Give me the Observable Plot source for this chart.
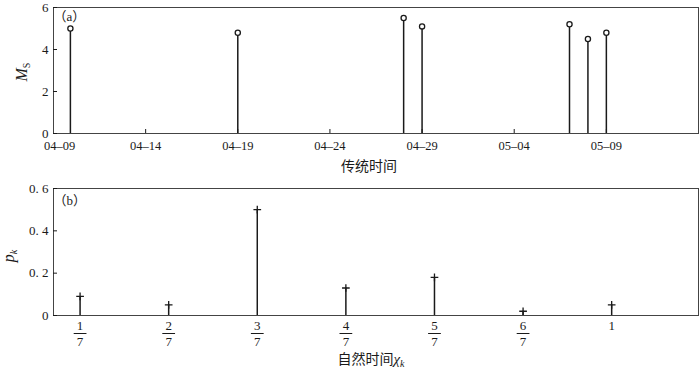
<!DOCTYPE html>
<html>
<head>
<meta charset="utf-8">
<script src="https://cdn.jsdelivr.net/npm/d3@7"></script>
<script src="https://cdn.jsdelivr.net/npm/@observablehq/plot@0.6"></script>
<style>
  body { margin: 0; background: #fff; }
  #chart svg { display: block; }
</style>
</head>
<body>
<div id="chart"></div>
<script>
// (a) Earthquake sequence on conventional (calendar) time
const eventTimes = [
  "2013-04-09 22:00", "2013-04-19 00:00", "2013-04-28 00:00", "2013-04-29 00:00",
  "2013-05-07 00:00", "2013-05-08 00:00", "2013-05-09 00:00"
];
const magnitudes = [5.0, 4.8, 5.5, 5.1, 5.2, 4.5, 4.8];
const dateTicks = ["2013-04-09", "2013-04-14", "2013-04-19", "2013-04-24", "2013-04-29", "2013-05-04", "2013-05-09"];
const magnitudeTicks = [0, 2, 4, 6];

// (b) The same events on natural time χk with their energy fractions pk
const naturalTimes = [1/7, 2/7, 3/7, 4/7, 5/7, 6/7, 1];
const probabilities = [0.09, 0.05, 0.50, 0.13, 0.18, 0.02, 0.05];
const numerators = ["1", "2", "3", "4", "5", "6", "1"];
const denominators = ["7", "7", "7", "7", "7", "7", ""];
const probabilityTicks = [0, 0.2, 0.4, 0.6];
const probabilityTickLabels = ["0", "0. 2", "0. 4", "0. 6"];

const serif = "'Liberation Serif','Times New Roman','DejaVu Serif','Noto Sans CJK SC',serif";
const cjk = "'Noto Sans CJK SC','Noto Sans',sans-serif";
const ink = "#1a1a1a";

const parseTime = d3.utcParse("%Y-%m-%d %H:%M");
const parseDay = d3.utcParse("%Y-%m-%d");
const dateFormat = d3.utcFormat("%m–%d");
const events = eventTimes.map((t, i) => ({time: parseTime(t), ms: magnitudes[i]}));
const tickDates = dateTicks.map(parseDay);
const fractions = naturalTimes.map((x, i) => ({x, p: probabilities[i], num: numerators[i], den: denominators[i]}));
const probLabel = new Map(probabilityTicks.map((v, i) => [v, probabilityTickLabels[i]]));

const baseStyle = `font-family: ${serif}; font-size: 13px; color: ${ink}; background: #fff; overflow: visible;`;

// horizontal stroke used as the bar of a stacked fraction
const fractionBar = {
  draw(context, size) {
    const w = Math.sqrt(size);
    context.moveTo(-w, 0);
    context.lineTo(w, 0);
  }
};

const plotA = Plot.plot({
  width: 700, height: 180,
  marginTop: 7, marginBottom: 47, marginLeft: 53, marginRight: 2,
  style: baseStyle,
  x: {type: "utc", domain: [parseDay("2013-04-09"), parseDay("2013-05-14")]},
  y: {domain: [0, 6]},
  marks: [
    Plot.frame({stroke: "#444"}),
    // inward ticks; the first label sits just inside the frame corner
    Plot.axisX(tickDates.slice(1), {tickSize: -4, tickPadding: 12, tickFormat: dateFormat, label: null, fontFamily: serif, fontSize: 12.5}),
    Plot.axisX(tickDates.slice(0, 1), {tickSize: 0, tickPadding: 8, dx: 6, tickFormat: dateFormat, label: null, fontFamily: serif, fontSize: 12.5}),
    Plot.axisY(magnitudeTicks, {tickSize: -4, tickPadding: 9, label: null, fontFamily: serif, fontSize: 13}),
    Plot.ruleX(events, {x: "time", y1: 0, y2: "ms", stroke: ink, strokeWidth: 1.5}),
    Plot.dot(events, {x: "time", y: "ms", r: 2.6, stroke: ink, strokeWidth: 1.3, fill: "#fff"}),
    Plot.text(["（a）"], {frameAnchor: "top-left", textAnchor: "start", lineAnchor: "middle", dx: 0, dy: 9, fontSize: 13, fontFamily: serif})
  ]
});

const plotB = Plot.plot({
  width: 700, height: 190,
  marginTop: 8, marginBottom: 55, marginLeft: 53, marginRight: 2,
  style: baseStyle,
  x: {domain: [0.1, 1.14], axis: null},
  y: {domain: [0, 0.6]},
  marks: [
    Plot.frame({stroke: "#444"}),
    Plot.axisY(probabilityTicks, {tickSize: -4, tickPadding: 9, tickFormat: d => probLabel.get(d), label: null, fontFamily: serif, fontSize: 13}),
    Plot.ruleX(fractions, {x: "x", y1: 0, y2: "p", stroke: ink, strokeWidth: 1.5}),
    Plot.dot(fractions, {x: "x", y: "p", symbol: "plus", r: 2.6, stroke: ink, strokeWidth: 1.3}),
    // fraction tick labels: numerator, bar, denominator
    Plot.text(fractions, {x: "x", text: "num", frameAnchor: "bottom", lineAnchor: "middle", dy: 10, fontSize: 13, fontFamily: serif}),
    Plot.dot(fractions.filter(d => d.den), {x: "x", frameAnchor: "bottom", dy: 18, symbol: fractionBar, r: 3.6, stroke: ink, strokeWidth: 1, fill: "none"}),
    Plot.text(fractions, {x: "x", text: "den", frameAnchor: "bottom", lineAnchor: "middle", dy: 26, fontSize: 13, fontFamily: serif}),
    Plot.text(["（b）"], {frameAnchor: "top-left", textAnchor: "start", lineAnchor: "middle", dx: 0, dy: 12, fontSize: 13, fontFamily: serif})
  ]
});

// Axis titles with sub-scripted symbols
function addTitle(svg, {x, y, rotate = false, parts}) {
  const t = d3.select(svg).append("text")
    .attr("transform", `translate(${x},${y})` + (rotate ? " rotate(-90)" : ""))
    .attr("text-anchor", "middle")
    .attr("fill", ink);
  for (const p of parts) {
    const s = t.append("tspan").text(p.text)
      .attr("font-family", p.family || serif)
      .attr("font-size", p.size || 14);
    if (p.italic) s.attr("font-style", "italic");
    if (p.dy) s.attr("dy", p.dy);
  }
}

addTitle(plotA, {x: 27, y: 72, rotate: true, parts: [
  {text: "M", italic: true, size: 16},
  {text: "S", size: 10, dy: 3}
]});
addTitle(plotA, {x: 369, y: 171, parts: [
  {text: "传统时间", family: cjk, size: 14}
]});
addTitle(plotB, {x: 14, y: 76, rotate: true, parts: [
  {text: "p", italic: true, size: 16},
  {text: "k", italic: true, size: 10, dy: 3}
]});
addTitle(plotB, {x: 371, y: 184, parts: [
  {text: "自然时间", family: cjk, size: 14},
  {text: "χ", italic: true, size: 15},
  {text: "k", italic: true, size: 10, dy: 3}
]});

document.getElementById("chart").append(plotA, plotB);
</script>
</body>
</html>
